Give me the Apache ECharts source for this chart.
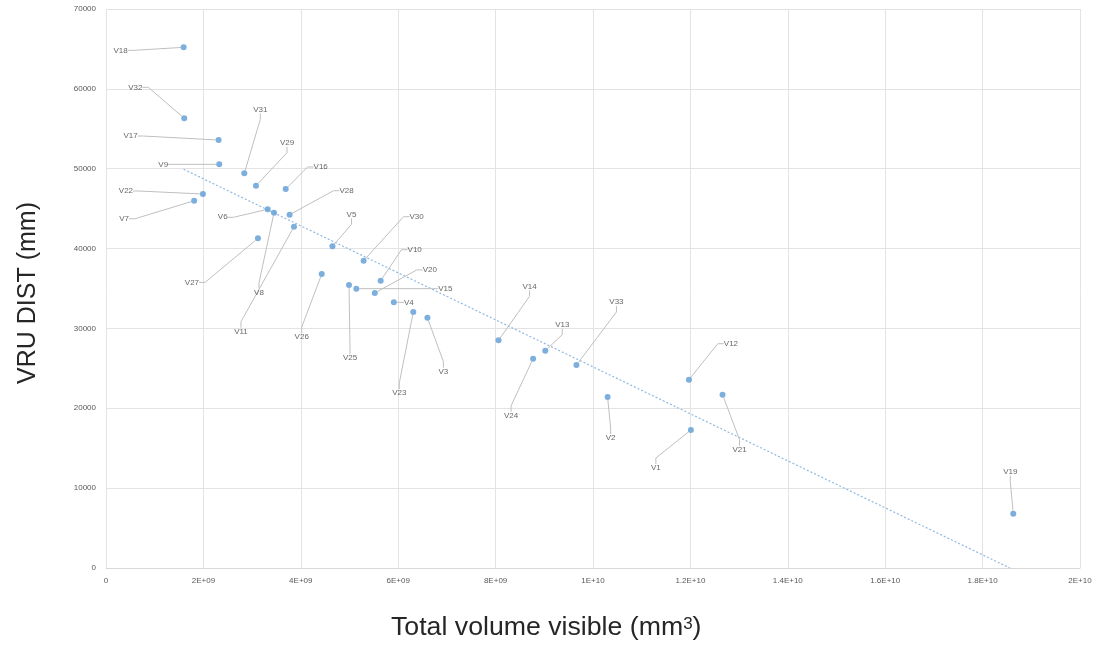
<!DOCTYPE html>
<html><head><meta charset="utf-8">
<script src="https://cdn.jsdelivr.net/npm/echarts@6/dist/echarts.min.js"></script>
<style>html,body{margin:0;padding:0;background:#fff}#c{width:1099px;height:647px}</style>
</head><body><div id="c"></div>
<script>
// ---- data ----
const names = ['V18','V32','V17','V9','V31','V29','V16','V22','V7','V6','V8','V28','V11','V27','V5','V30','V26','V10','V25','V15','V20','V4','V23','V3','V14','V13','V24','V33','V2','V12','V21','V1','V19'];
const volume = [1.594e9,1.607e9,2.312e9,2.325e9,2.84e9,3.08e9,3.69e9,1.99e9,1.81e9,3.32e9,3.45e9,3.77e9,3.86e9,3.12e9,4.65e9,5.29e9,4.43e9,5.64e9,4.99e9,5.14e9,5.52e9,5.91e9,6.31e9,6.60e9,8.06e9,9.02e9,8.77e9,9.66e9,10.30e9,11.97e9,12.66e9,12.01e9,18.63e9];
const vruDist = [65200,56310,53590,50550,49420,47870,47460,46830,45990,44920,44490,44240,42740,41280,40280,38480,36810,35980,35440,34980,34440,33270,32060,31340,28510,27210,26210,25420,21410,23580,21700,17280,6800];
const trendX = [1.594e9, 18.56e9];
const trendY = [49925, 0];
const xTitle = 'Total volume visible (mm';
const xTitleSup = '3';
const yTitle = 'VRU DIST (mm)';

// label offsets (pixels), layout only
const labelOffsets = {
 V18:[-63,3],V32:[-49,-31],V17:[-88,-4],V9:[-56,0],V31:[16,-64],V29:[31,-43],V16:[35,-22],
 V22:[-77,-3],V7:[-70,18],V6:[-45,8],V8:[-15,80],V28:[57,-24],V11:[-53,105],V27:[-66,44],
 V5:[19,-32],V30:[53,-44],V26:[-20,63],V10:[34,-31],V25:[1,73],V15:[89,0],V20:[55,-23],
 V4:[15,0],V23:[-14,81],V3:[16,54],V14:[31,-54],V13:[17,-26],V24:[-22,57],V33:[40,-63],
 V2:[3,41],V12:[42,-36],V21:[17,55],V1:[-35,38],V19:[-3,-42]
};

const pts = names.map((n,i)=>({name:n, value:[volume[i], vruDist[i]]}));
const trend = trendX.map((x,i)=>[x, trendY[i]]);

function fmtX(v){
  if(v===0) return '0';
  const e = Math.floor(Math.log10(v)+1e-9);
  let m = v/Math.pow(10,e);
  m = Math.round(m*10)/10;
  return m + 'E+' + (e<10?'0'+e:e);
}

const chart = echarts.init(document.getElementById('c'));
chart.setOption({
  animation:false,
  grid:{left:106,right:19,top:9,bottom:79,containLabel:false},
  xAxis:{type:'value',min:0,max:2e10,interval:2e9,
    axisLine:{show:true,lineStyle:{color:'#d9d9d9'}},axisTick:{show:false},
    splitLine:{show:true,lineStyle:{color:'#e3e3e3'}},
    axisLabel:{formatter:fmtX,color:'#595959',fontSize:8,fontFamily:'Liberation Sans',margin:9}
  },
  yAxis:{type:'value',min:0,max:70000,interval:10000,
    axisLine:{show:false},axisTick:{show:false},
    splitLine:{show:true,lineStyle:{color:'#e3e3e3'}},
    axisLabel:{formatter:v=>String(v),color:'#595959',fontSize:8,fontFamily:'Liberation Sans',margin:10}
  },
  graphic:[
    {type:'text',left:391,top:614,silent:true,
     style:{text:xTitle+'{s|'+xTitleSup+'})',fill:'#262626',font:'26.7px "Liberation Sans"',
       rich:{s:{fontSize:17,fill:'#262626',fontFamily:'Liberation Sans',verticalAlign:'top',padding:[2,0,0,0]}}}},
    {type:'text',x:28,y:293,rotation:Math.PI/2,silent:true,
     style:{text:yTitle,fill:'#262626',font:'25px "Liberation Sans"',align:'center',verticalAlign:'middle'}}
  ],
  series:[
    {type:'line',data:trend,symbol:'none',silent:true,clip:true,
     lineStyle:{color:'#8fb8e3',width:1.2,type:[2,2]},z:1},
    {type:'scatter',data:pts,symbolSize:6,itemStyle:{color:'#5b9bd5'},z:3,
     label:{show:true,position:'inside',formatter:'{b}',color:'#404040',fontSize:8,fontFamily:'Liberation Sans'},
     labelLine:{show:true,length2:6,lineStyle:{color:'#bfbfbf',width:1}},
     labelLayout:function(p){const o=labelOffsets[names[p.dataIndex]];return {dx:o[0],dy:o[1]};}
    }
  ]
});
</script></body></html>
